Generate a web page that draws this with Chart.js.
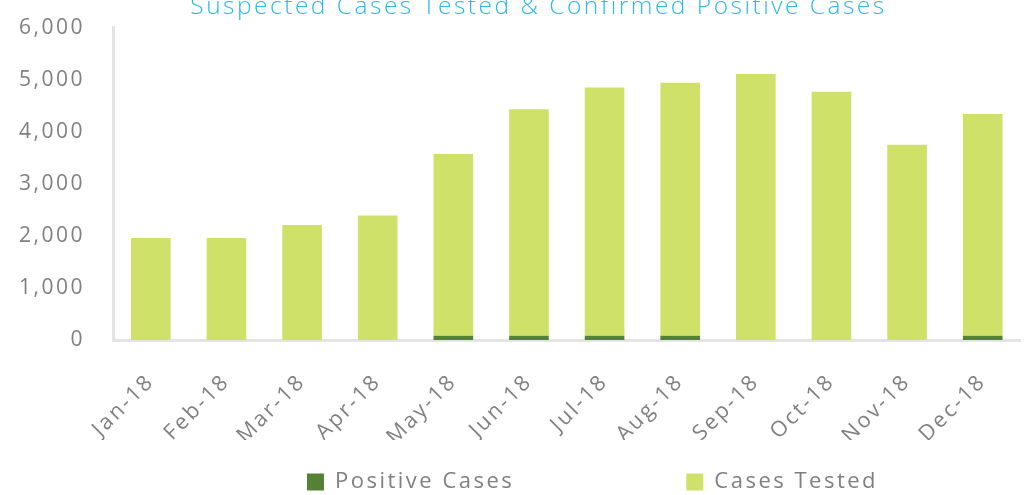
<!DOCTYPE html>
<html><head><meta charset="utf-8">
<script src="https://cdn.jsdelivr.net/npm/chart.js@4"></script>
<style>
html,body{margin:0;padding:0;overflow:hidden;background:#fff;width:1026px;height:495px}
#wrap{position:absolute;left:0;top:-13px;width:1030px;height:510px}
</style></head><body>
<div id="wrap"><canvas id="c"></canvas></div>
<script>
const categories = ['Jan-18','Feb-18','Mar-18','Apr-18','May-18','Jun-18','Jul-18','Aug-18','Sep-18','Oct-18','Nov-18','Dec-18'];
const positiveCases = [0, 0, 0, 0, 80, 80, 80, 80, 0, 0, 0, 80];
const casesTested = [1960, 1960, 2210, 2390, 3490, 4350, 4770, 4860, 5110, 4770, 3750, 4260];
const yTickValues = [0, 1000, 2000, 3000, 4000, 5000, 6000];
const titleText = 'Suspected Cases Tested & Confirmed Positive Cases';
const seriesNames = ['Positive Cases', 'Cases Tested'];

const GRAY = '#808080';
const FONT = '"Open Sans", "DejaVu Sans", sans-serif';
const LEGEND_PAD = 172;

const spacingPlugin = {
  id: 'spacing',
  beforeLayout(chart) { chart.ctx.letterSpacing = '2.5px'; },
  beforeDraw(chart) { chart.ctx.letterSpacing = '2.5px'; }
};
const placeBoxes = {
  id: 'placeBoxes',
  afterLayout(chart) {
    const lg = chart.legend;
    if (lg) {
      lg.left += 78; lg.right += 78;
      lg.top = 484 - LEGEND_PAD;
      lg.bottom = chart.height;
    }
    const tb = chart.titleBlock;
    if (tb) { tb.left += 24; tb.right += 24; }
  }
};

new Chart(document.getElementById('c'), {
  type: 'bar',
  data: {
    labels: categories,
    datasets: [
      { label: seriesNames[0], data: positiveCases, backgroundColor: '#538135', stack: 's' },
      { label: seriesNames[1], data: casesTested, backgroundColor: '#D0E16A', stack: 's' }
    ]
  },
  options: {
    responsive: true,
    maintainAspectRatio: false,
    animation: false,
    datasets: { bar: { barPercentage: 0.524, categoryPercentage: 1 } },
    layout: { padding: { left: 0, right: 1, top: 0, bottom: 0 } },
    plugins: {
      title: {
        display: true, text: titleText, color: '#2DB7EA',
        font: { family: FONT, size: 24.5, weight: '300' },
        padding: { top: 1, bottom: 6 }
      },
      legend: {
        position: 'bottom',
        maxHeight: 57,
        labels: {
          boxWidth: 17, boxHeight: 17, padding: LEGEND_PAD, color: GRAY,
          font: { family: FONT, size: 22 }
        }
      },
      tooltip: { enabled: false }
    },
    scales: {
      x: {
        stacked: true,
        afterFit(scale) { scale.height = 100; },
        grid: { display: false, drawTicks: false },
        border: { display: true, width: 3, color: '#e4e4e4' },
        ticks: {
          autoSkip: false, maxRotation: 45, minRotation: 45, padding: 29,
          color: GRAY, font: { family: FONT, size: 21.5 }
        }
      },
      y: {
        stacked: true, min: 0, max: 6000,
        afterFit(scale) { scale.width = 113; },
        afterBuildTicks(scale) { scale.ticks = yTickValues.map(v => ({ value: v })); },
        grid: { display: false, drawTicks: false },
        border: { display: true, width: 3, color: '#e4e4e4' },
        ticks: {
          padding: 28, color: GRAY, font: { family: FONT, size: 21 },
          callback: v => v.toLocaleString('en-US')
        }
      }
    }
  },
  plugins: [spacingPlugin, placeBoxes]
});
</script>
</body></html>
